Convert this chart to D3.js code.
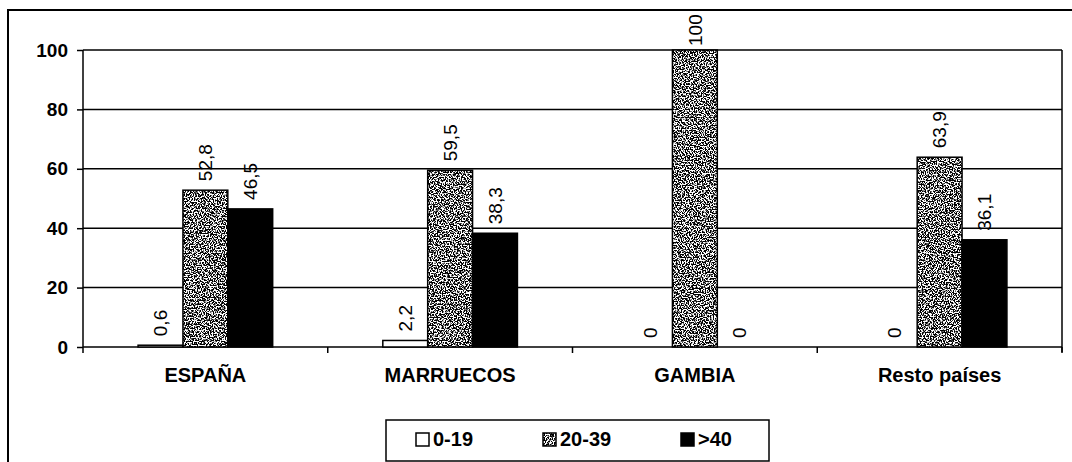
<!DOCTYPE html>
<html><head><meta charset="utf-8">
<script src="https://cdn.jsdelivr.net/npm/d3@7"></script>
<style>
html,body{margin:0;padding:0;background:#fff;}
svg{display:block;font-family:"Liberation Sans",Arial,sans-serif;}
</style></head>
<body>
<svg id="chart" width="1072" height="462"></svg>
<script>
const categories = ["ESPAÑA", "MARRUECOS", "GAMBIA", "Resto países"];
const seriesNames = ["0-19", "20-39", ">40"];
const values_0_19 = [0.6, 2.2, 0, 0];
const values_20_39 = [52.8, 59.5, 100, 63.9];
const values_40 = [46.5, 38.3, 0, 36.1];
const valueLabels_0_19 = ["0,6", "2,2", "0", "0"];
const valueLabels_20_39 = ["52,8", "59,5", "100", "63,9"];
const valueLabels_40 = ["46,5", "38,3", "0", "36,1"];
const yTicks = [0, 20, 40, 60, 80, 100];

const seriesValues = [values_0_19, values_20_39, values_40];
const seriesLabels = [valueLabels_0_19, valueLabels_20_39, valueLabels_40];
const fills = ["#ffffff", "#999999", "#000000"];

const svg = d3.select("#chart");
const defs = svg.append("defs");
const f = defs.append("filter").attr("id","noise")
  .attr("x",0).attr("y",0).attr("width",1).attr("height",1)
  .attr("color-interpolation-filters","sRGB");
f.append("feTurbulence").attr("type","fractalNoise").attr("baseFrequency","0.75")
  .attr("numOctaves",1).attr("seed",7).attr("result","n");
f.append("feColorMatrix").attr("in","n").attr("type","matrix")
  .attr("values","0 0 0 0 0  0 0 0 0 0  0 0 0 0 0  -12 0 0 0 6.6").attr("result","dots");
f.append("feFlood").attr("flood-color","#ffffff").attr("result","w");
f.append("feComposite").attr("in","dots").attr("in2","w").attr("operator","over").attr("result","tex");
f.append("feComposite").attr("in","tex").attr("in2","SourceGraphic").attr("operator","in");

// outer frame
svg.append("path").attr("d","M8,462 V10 H1072").attr("fill","none")
  .attr("stroke","#000").attr("stroke-width",2);

const left = 83, right = 1062;
const x0 = d3.scaleBand().domain(categories).range([left,right])
  .paddingInner(0.45).paddingOuter(0.225);
const x1 = d3.scaleBand().domain(seriesNames).range([0,x0.bandwidth()]);
const y = d3.scaleLinear().domain([0,100]).range([347,50]);

// gridlines
svg.append("g").selectAll("line").data(yTicks).join("line")
  .attr("x1",left).attr("x2",right).attr("y1",d=>y(d)).attr("y2",d=>y(d))
  .attr("stroke","#000").attr("stroke-width",1.5);
// plot border left/right
svg.append("line").attr("x1",left).attr("x2",left).attr("y1",y(100)).attr("y2",y(0))
  .attr("stroke","#000").attr("stroke-width",1.5);
svg.append("line").attr("x1",right).attr("x2",right).attr("y1",y(100)).attr("y2",y(0)+5)
  .attr("stroke","#000").attr("stroke-width",1.5);

// y axis
const yAxis = d3.axisLeft(y).tickValues(yTicks).tickSize(6).tickPadding(9).tickFormat(d3.format("d"));
const ya = svg.append("g").attr("transform",`translate(${left},0)`).call(yAxis);
ya.select(".domain").remove();
ya.selectAll(".tick line").attr("stroke","#000").attr("stroke-width",1.5);
ya.selectAll(".tick text").attr("font-size",19).attr("font-weight","bold")
  .attr("fill","#000").attr("font-family","Liberation Sans, Arial, sans-serif");

// category boundary ticks
const step = x0.step();
svg.append("g").selectAll("line").data(d3.range(categories.length+1)).join("line")
  .attr("x1",i=>left+i*step).attr("x2",i=>left+i*step)
  .attr("y1",y(0)).attr("y2",y(0)+6).attr("stroke","#000").attr("stroke-width",1.5);

// category labels
svg.append("g").selectAll("text").data(categories).join("text")
  .attr("x",d=>x0(d)+x0.bandwidth()/2).attr("y",382)
  .attr("text-anchor","middle").attr("font-size",20).attr("font-weight","bold")
  .text(d=>d);

// bars
const barData = [];
categories.forEach((c,ci)=>{
  seriesNames.forEach((s,si)=>{
    barData.push({c, s, si, v: seriesValues[si][ci], label: seriesLabels[si][ci]});
  });
});
const bars = svg.append("g");
bars.selectAll("rect.fill").data(barData.filter(d=>d.v>0)).join("rect")
  .attr("class","fill")
  .attr("x",d=>x0(d.c)+x1(d.s)).attr("width",x1.bandwidth())
  .attr("y",d=>y(d.v)).attr("height",d=>y(0)-y(d.v))
  .attr("fill",d=>fills[d.si])
  .attr("filter",d=>d.si===1?"url(#noise)":null);
bars.selectAll("rect.outline").data(barData.filter(d=>d.v>0)).join("rect")
  .attr("class","outline")
  .attr("x",d=>x0(d.c)+x1(d.s)).attr("width",x1.bandwidth())
  .attr("y",d=>y(d.v)).attr("height",d=>y(0)-y(d.v))
  .attr("fill","none").attr("stroke","#000").attr("stroke-width",1.5);

// value labels (rotated)
svg.append("g").selectAll("text").data(barData).join("text")
  .attr("transform",d=>{
    const cx = x0(d.c)+x1(d.s)+x1.bandwidth()/2;
    const yy = Math.max(y(d.v)-9, 46);
    return `translate(${cx},${yy}) rotate(-90)`;
  })
  .attr("dy","0.35em").attr("text-anchor","start")
  .attr("font-size",19).attr("fill","#000")
  .text(d=>d.label);

// legend
const lg = svg.append("g");
lg.append("rect").attr("x",386).attr("y",420).attr("width",383).attr("height",41)
  .attr("fill","#fff").attr("stroke","#000").attr("stroke-width",1.5);
const legX = [416, 543, 681];
const items = lg.selectAll("g.item").data(seriesNames).join("g").attr("class","item");
items.append("rect").attr("x",(d,i)=>legX[i]).attr("y",433).attr("width",13).attr("height",13)
  .attr("fill",(d,i)=>fills[i]).attr("filter",(d,i)=>i===1?"url(#noise)":null);
items.append("rect").attr("x",(d,i)=>legX[i]).attr("y",433).attr("width",13).attr("height",13)
  .attr("fill","none").attr("stroke","#000").attr("stroke-width",1.5);
items.append("text").attr("x",(d,i)=>legX[i]+17).attr("y",446)
  .attr("font-size",20).attr("font-weight","bold").attr("fill","#000").text(d=>d);
</script>
</body></html>
